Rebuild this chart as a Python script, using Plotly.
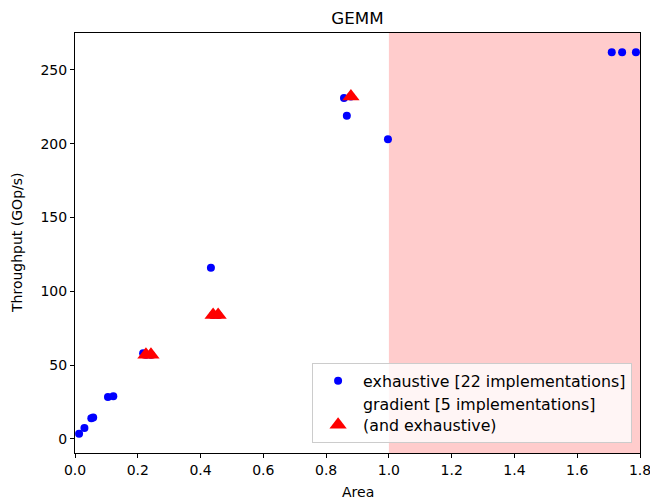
import plotly.graph_objects as go

# exhaustive search implementations (area, throughput GOp/s)
exh_x = [0.013, 0.030, 0.052, 0.058, 0.105, 0.122, 0.217, 0.226, 0.242,
         0.433, 0.440, 0.456, 0.857, 0.866, 0.879, 0.997, 1.710, 1.743, 1.787]
exh_y = [3.5, 7.5, 14, 14.5, 28.5, 29, 58, 57, 57,
         116, 84, 84, 231, 219, 232, 203, 262, 262, 262]

# gradient search implementations
grad_x = [0.226, 0.242, 0.440, 0.456, 0.879]
grad_y = [57, 57, 84, 84, 232]

x_ticks = [0.0, 0.2, 0.4, 0.6, 0.8, 1.0, 1.2, 1.4, 1.6, 1.8]
y_ticks = [0, 50, 100, 150, 200, 250]
area_limit = 1.0

font = dict(family="DejaVu Sans", size=14, color="black")

fig = go.Figure()
fig.add_trace(go.Scatter(
    x=exh_x, y=exh_y, mode="markers",
    marker=dict(color="#0000ff", size=8, symbol="circle"),
    name="exhaustive [22 implementations]", cliponaxis=True))
fig.add_trace(go.Scatter(
    x=grad_x, y=grad_y, mode="markers",
    marker=dict(color="#ff0000", size=15, symbol="triangle-up"),
    name="gradient [5 implementations]<br>(and exhaustive)", cliponaxis=True))

fig.add_shape(type="rect", xref="x", yref="paper", x0=area_limit, x1=1.8,
              y0=0, y1=1, fillcolor="rgba(255,0,0,0.2)", line=dict(width=0),
              layer="below")

axis_common = dict(showline=True, linecolor="black", linewidth=1, mirror=True,
                   ticks="outside", ticklen=4, tickcolor="black", showgrid=False,
                   zeroline=False, tickfont=font, automargin=False,
                   ticklabeloverflow="allow")

fig.add_annotation(text="Area", xref="paper", yref="paper", x=0.5, y=-0.093,
                   xanchor="center", yanchor="middle", showarrow=False, font=font)
fig.add_annotation(text="Throughput (GOp/s)", xref="paper", yref="paper",
                   x=-0.1027, y=0.5, xanchor="center", yanchor="middle",
                   textangle=-90, showarrow=False, font=font)

fig.update_layout(
    width=650, height=500,
    margin=dict(l=75, r=10, t=33, b=47),
    paper_bgcolor="white", plot_bgcolor="white",
    font=font,
    title=dict(text="GEMM", x=0.5, xref="paper", xanchor="center",
               y=0.964, yanchor="middle",
               font=dict(family="DejaVu Sans", size=16.7, color="black")),
    xaxis=dict(range=[0, 1.8], tickvals=x_ticks,
               ticktext=[f"{v:.1f}" for v in x_ticks], **axis_common),
    yaxis=dict(range=[-9.5, 275], tickvals=y_ticks, **axis_common),
    legend=dict(x=0.986, y=0.024, xanchor="right", yanchor="bottom",
                bgcolor="rgba(255,255,255,0.8)", bordercolor="#cccccc", borderwidth=1,
                font=dict(family="DejaVu Sans", size=15.8, color="black"),
                itemsizing="trace", itemwidth=40, tracegroupgap=0, valign="bottom"),
    showlegend=True,
)

fig.write_html("out.html", config={"displayModeBar": False},
               post_script="document.body.style.margin='0';document.body.style.overflow='hidden';")
